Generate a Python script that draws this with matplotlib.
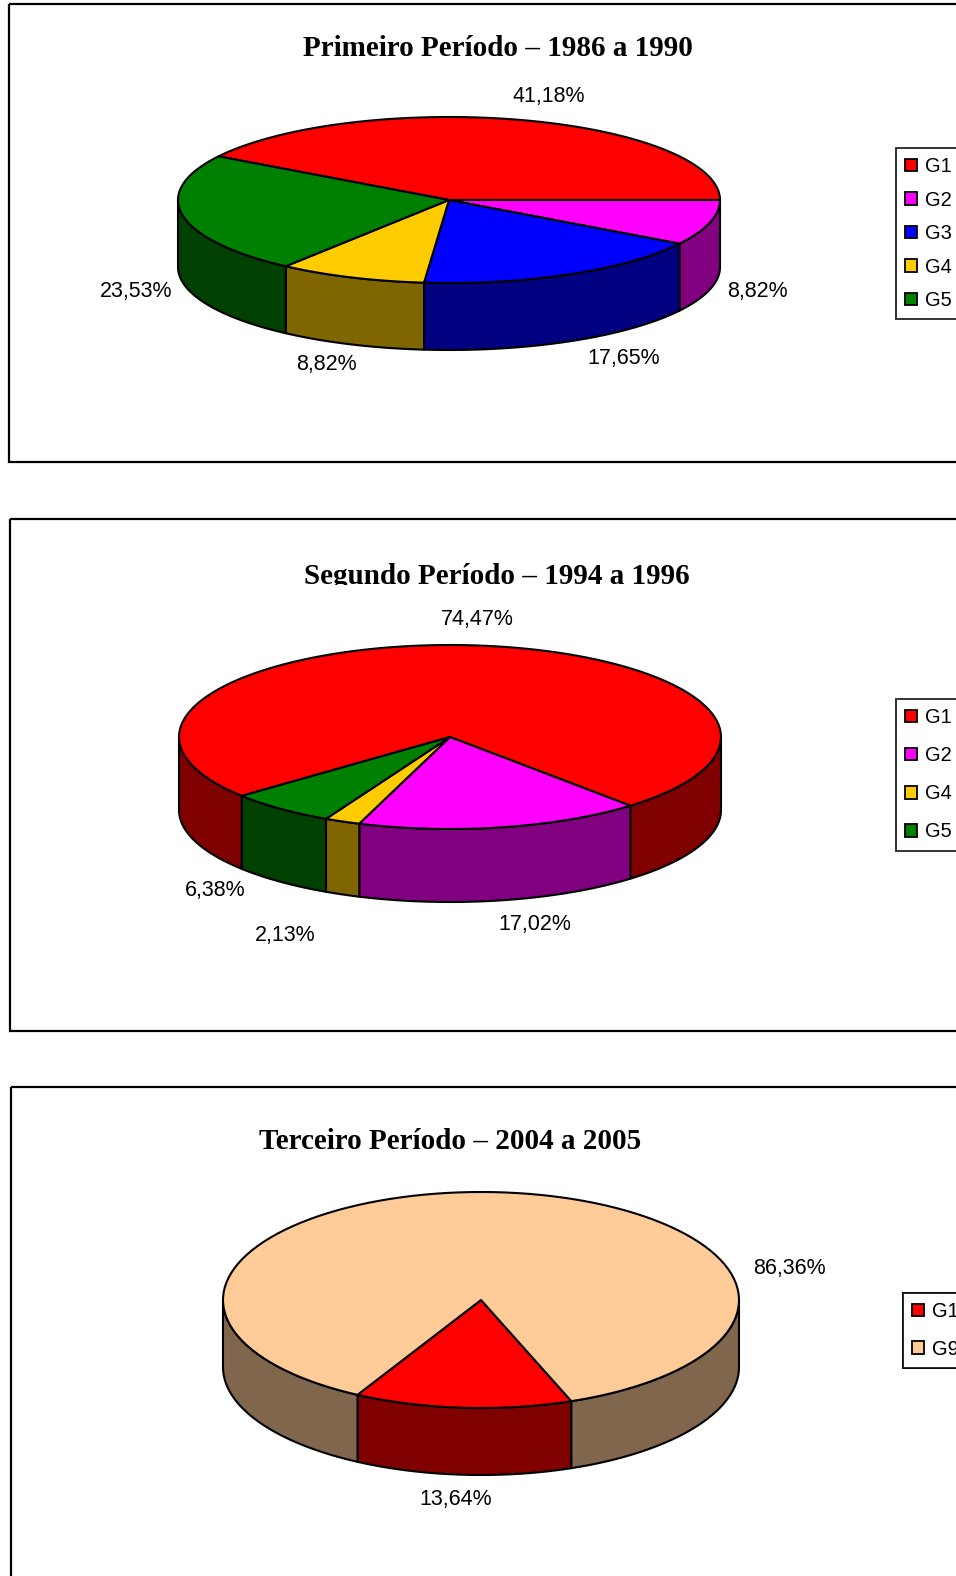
import numpy as np
import matplotlib
matplotlib.use("Agg")
import matplotlib.pyplot as plt
from matplotlib.patches import Polygon, Rectangle, Patch
from matplotlib.colors import to_rgb
from matplotlib.transforms import Bbox

# ---------------- data ----------------
titles = ["Primeiro Período – 1986 a 1990",
          "Segundo Período – 1994 a 1996",
          "Terceiro Período – 2004 a 2005"]

p1_labels = ["G1", "G2", "G3", "G4", "G5"]
p1_values = [41.18, 8.82, 17.65, 8.82, 23.53]

p2_labels = ["G1", "G2", "G4", "G5"]
p2_values = [74.47, 17.02, 2.13, 6.38]

p3_labels = ["G1", "G9"]
p3_values = [13.64, 86.36]

group_colors = {"G1": "#FF0000", "G2": "#FF00FF", "G3": "#0000FF",
                "G4": "#FFCC00", "G5": "#008000", "G9": "#FFCC99"}

# ---------------- layout (pixels) ----------------
W, H = 956, 1576
panels = [
    dict(labels=p1_labels, values=p1_values, title=titles[0],
         frame=(9, 4, 462), title_xy=(498, 56), title_clip=None,
         cx=449, cy=200, rx=271, ry=83, depth=67, start=148.25,
         nudges=[(7, -4), (-17, -4), (24, -1), (0, 1), (19, 5)],
         legend_xy=(896, 148), legend_spacing=0.72),
    dict(labels=p2_labels, values=p2_values, title=titles[1],
         frame=(10, 519, 1031), title_xy=(496.5, 583.5), title_clip=585,
         cx=450, cy=737, rx=271, ry=92, depth=73, start=219.8,
         nudges=[(2, -5), (20, 3), (-31, 22), (-23, -8)],
         legend_xy=(896, 699), legend_spacing=0.95),
    dict(labels=p3_labels, values=p3_values, title=titles[2],
         frame=(11, 1087, 1600), title_xy=(450, 1149), title_clip=None,
         cx=481, cy=1300, rx=258, ry=108, depth=67, start=-69.5,
         nudges=[(-2, 2), (286, 99)],
         legend_xy=(903, 1293), legend_spacing=0.92),
]

SANS = ["Liberation Sans", "DejaVu Sans"]
SERIF = ["Liberation Serif", "DejaVu Serif"]

fig = plt.figure(figsize=(W / 100, H / 100), dpi=100)
ax = fig.add_axes([0, 0, 1, 1])
ax.set_xlim(0, W)
ax.set_ylim(H, 0)
ax.axis("off")

EDGE_LW = 1.5


def darker(c):
    r, g, b = to_rgb(c)
    return (r * 0.5, g * 0.5, b * 0.5)


def arc(cx, cy, rx, ry, a0, a1, n=120, dy=0.0):
    t = np.radians(np.linspace(a0, a1, n))
    return np.column_stack([cx + rx * np.cos(t), cy - ry * np.sin(t) + dy])


for p in panels:
    x0, y0, y1 = p["frame"]
    ax.add_patch(Rectangle((x0, y0), W + 50 - x0, y1 - y0, fill=False,
                           edgecolor="black", lw=1.6, zorder=1))
    t = ax.text(p["title_xy"][0], p["title_xy"][1], p["title"],
                ha="center", va="baseline", fontsize=21,
                fontweight="bold", family=SERIF, zorder=5)
    if p["title_clip"] is not None:
        clip_y = p["title_clip"]
        disp0 = ax.transData.transform((0, clip_y))
        disp1 = ax.transData.transform((W, y0))
        t.set_clip_box(Bbox([[disp0[0], disp0[1]], [disp1[0], disp1[1]]]))
        t.set_clip_on(True)

    vals = np.array(p["values"], dtype=float)
    fr = vals / vals.sum()
    cx, cy, rx, ry, d = p["cx"], p["cy"], p["rx"], p["ry"], p["depth"]
    cols = [group_colors[g] for g in p["labels"]]

    bounds = []
    a = p["start"]
    for f in fr:
        b = a - 360.0 * f
        bounds.append((b, a))
        a = b

    # side walls (front half: angles where sin < 0)
    for (lo, hi), c in zip(bounds, cols):
        for k in range(-2, 3):
            flo, fhi = -180 + 360 * k, 360 * k
            s, e = max(lo, flo), min(hi, fhi)
            if e - s > 1e-6:
                top = arc(cx, cy, rx, ry, s, e)
                bot = arc(cx, cy, rx, ry, e, s, dy=d)
                ax.add_patch(Polygon(np.vstack([top, bot]), closed=True,
                                     facecolor=darker(c), edgecolor="black",
                                     lw=EDGE_LW, joinstyle="round", zorder=2))
    # top faces
    for (lo, hi), c in zip(bounds, cols):
        pts = np.vstack([[cx, cy], arc(cx, cy, rx, ry, hi, lo)])
        ax.add_patch(Polygon(pts, closed=True, facecolor=c, edgecolor="black",
                             lw=EDGE_LW, joinstyle="round", zorder=3))

    # data labels
    for (lo, hi), v, (nx, ny) in zip(bounds, vals, p["nudges"]):
        m = np.radians((lo + hi) / 2)
        lx = cx + (rx * 1.1 + 40) * np.cos(m) + nx
        ly = cy - (ry * 1.1 + 12) * np.sin(m) + (d if np.sin(m) < 0 else 0) + ny
        ax.text(lx, ly, f"{v:.2f}".replace(".", ",") + "%", ha="center",
                va="center", fontsize=15.5, family=SANS, zorder=5)

    # legend
    handles = [Patch(facecolor=c, edgecolor="black", lw=1.3) for c in cols]
    lx, ly = p["legend_xy"]
    leg = ax.legend(handles, p["labels"], loc="upper left",
                    bbox_to_anchor=(lx / W, 1 - ly / H),
                    bbox_transform=fig.transFigure, frameon=True,
                    fancybox=False, shadow=False, borderaxespad=0,
                    borderpad=0.45, handlelength=0.6, handleheight=0.6,
                    handletextpad=0.4, labelspacing=p["legend_spacing"],
                    prop={"family": SANS, "size": 14.5})
    leg.get_frame().set_edgecolor("black")
    leg.get_frame().set_linewidth(1.4)
    leg.set_zorder(6)
    ax.add_artist(leg)

fig.savefig("out.png", dpi=100)
